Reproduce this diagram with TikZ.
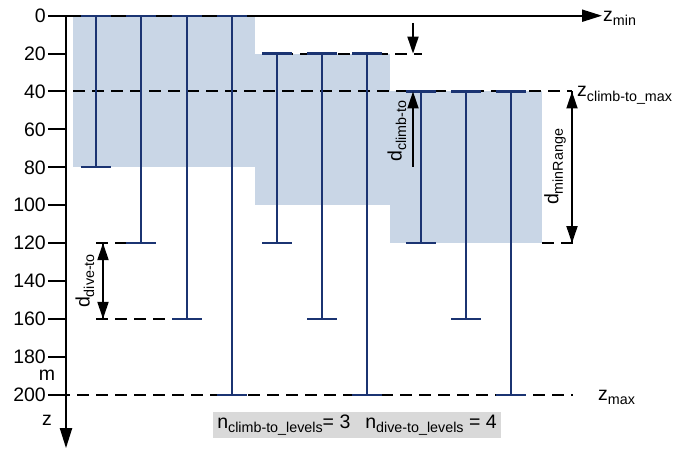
\documentclass[tikz,border=0pt]{standalone}
\usepackage{fontspec}
\setmainfont{Liberation Sans}
\usetikzlibrary{arrows.meta}
\definecolor{rangeshade}{HTML}{C9D6E6}
\definecolor{levelblue}{HTML}{1B3472}
\definecolor{notegray}{HTML}{D9D9D9}
\newcommand\lowidx[1]{\raisebox{-4.5pt}{\fontsize{14.3}{15}\selectfont #1}}
\tikzset{
  lbl/.style={font=\fontsize{19.5}{21}\selectfont, inner sep=0pt},
  guide/.style={black, line width=2pt, dash pattern=on 12pt off 7pt},
  levelbar/.style={levelblue, line width=2.2pt},
  dimline/.style={black, line width=1.8pt},
  tip/.style={-{Triangle[length=17pt,width=11pt]}},
  axistip/.style={-{Triangle[length=20pt,width=12pt]}}
}
\begin{document}
\begin{tikzpicture}[x=1pt,y=-1.895pt]
      \useasboundingbox (0,-8.28) rectangle (699,228.65);
      \fill[rangeshade] (73,0) rectangle (255,80);
      \fill[rangeshade] (255,20) rectangle (390,100);
      \fill[rangeshade] (390,40) rectangle (542,120);
      \foreach \z in {0,20,...,200} {
        \node[lbl, anchor=east] (t\z) at (46,\z) {\z};
        \draw[line width=2pt] (48,\z) -- (66,\z);
      }
      \draw
        (47,189.6) node[lbl] (unit){m}
        (47,213.4) node[lbl] (zlbl){z}
        (603,1.5) node[lbl, anchor=west] (zmin){z\lowidx{min}}
        (577,42) node[lbl, anchor=west] (zclimb){z\lowidx{climb-to\_max}}
        (598,201.5) node[lbl, anchor=west] (zmax){z\lowidx{max}}
        (397,60.8) node[lbl, rotate=90] (dclimb){d\lowidx{climb-to}}
        (555,79.8) node[lbl, rotate=90] (drange){d\lowidx{minRange}}
        (85,140) node[lbl, rotate=90] (ddive){d\lowidx{dive-to}}
        (357,216) node[lbl, fill=notegray, minimum width=288pt, minimum height=26pt]
          (levels){n\lowidx{climb-to\_levels}= 3\hspace{15pt}n\lowidx{dive-to\_levels} = 4};
      \coordinate (origin) at (66,0);
      \coordinate (xend) at (602,0);
      \coordinate (zend) at (66,228.2);
      \draw[axistip, line width=2pt] (origin) -- (xend);
      \draw[axistip, line width=2pt] (origin) -- (zend);
      \begin{scope}[guide]
        \draw (262,20) -- (422,20);
        \draw (73,40) -- (572,40);
        \draw (96,120) -- (141,120);
        \draw (542,120) -- (580,120);
        \draw (96,160) -- (187,160);
        \draw (58,200) -- (573,200);
      \end{scope}
      \foreach \x/\t/\b in {96/0/80,141/0/120,187/0/160,232/0/200,
                            277/20/120,322/20/160,367/20/200,
                            421/40/120,466/40/160,511/40/200} {
        \coordinate (b\x top) at (\x,\t);
        \coordinate (b\x bot) at (\x,\b);
        \draw[levelbar] (b\x top) -- (b\x bot);
        \draw[levelbar] ([xshift=-15pt]b\x top) -- ([xshift=15pt]b\x top);
        \draw[levelbar] ([xshift=-15pt]b\x bot) -- ([xshift=15pt]b\x bot);
      }
      \coordinate (cstart) at (413,3.85);
      \coordinate (c20) at (413,20);
      \coordinate (cstop) at (413,79.8);
      \coordinate (c40) at (413,40);
      \coordinate (r40) at (572,40);
      \coordinate (r120) at (572,120);
      \coordinate (d120) at (103,120);
      \coordinate (d160) at (103,160);
      \begin{scope}[dimline]
        \draw[tip] (cstart) -- (c20);
        \draw[tip] (cstop) -- (c40);
        \draw[tip] (r40) -- (r120);
        \draw[tip] (r120) -- (r40);
        \draw[tip] (d120) -- (d160);
        \draw[tip] (d160) -- (d120);
      \end{scope}
    \end{tikzpicture}
\end{document}
